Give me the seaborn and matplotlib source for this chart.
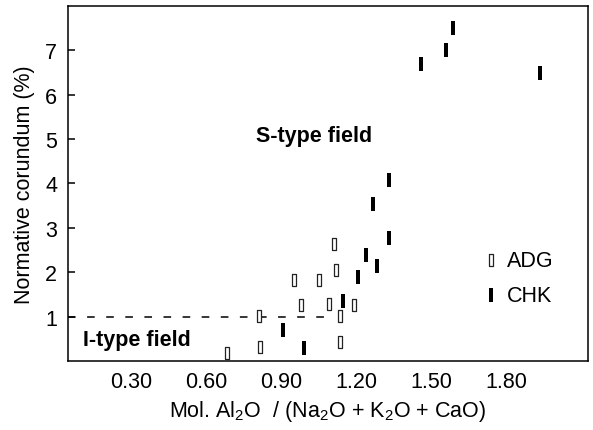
import numpy as np
import pandas as pd
import seaborn as sns
import matplotlib.pyplot as plt

# values
adg_x = [1.11, 1.12, 0.95, 1.05, 0.98, 1.09, 1.19, 0.81, 1.135, 0.815, 1.135, 0.68]
adg_y = [2.64, 2.06, 1.82, 1.83, 1.26, 1.28, 1.26, 1.02, 1.01, 0.32, 0.43, 0.17]
chk_x = [1.586, 1.558, 1.459, 1.935, 1.329, 1.266, 1.331, 1.237, 1.281, 1.205, 1.145, 0.905, 0.989]
chk_y = [7.49, 7.01, 6.69, 6.49, 4.08, 3.54, 2.77, 2.39, 2.15, 1.89, 1.36, 0.70, 0.29]
x_ticks = [0.30, 0.60, 0.90, 1.20, 1.50, 1.80]
y_ticks = [1, 2, 3, 4, 5, 6, 7]
i_type_level = 1.0
i_type_xmax = 1.07

df = pd.DataFrame({
    'ratio': adg_x + chk_x,
    'corundum': adg_y + chk_y,
    'group': ['ADG'] * len(adg_x) + ['CHK'] * len(chk_x),
})

sns.set_style('white')
plt.rcParams['font.family'] = ['Liberation Sans', 'DejaVu Sans']
plt.rcParams['mathtext.fontset'] = 'custom'
plt.rcParams['mathtext.rm'] = 'Liberation Sans'
plt.rcParams['mathtext.it'] = 'Liberation Sans:italic'
plt.rcParams['mathtext.bf'] = 'Liberation Sans:bold'
for key in ['text.color', 'axes.labelcolor', 'xtick.color', 'ytick.color']:
    plt.rcParams[key] = 'black'
fs = 15.5

fig = plt.figure(figsize=(5.93, 4.31), dpi=100)
ax = fig.add_axes([0.1142, 0.1601, 0.8774, 0.8244])

box_adg = [(-0.16, -0.5), (0.16, -0.5), (0.16, 0.5), (-0.16, 0.5), (-0.16, -0.5)]
bar_chk = [(-0.15, -0.5), (0.15, -0.5), (0.15, 0.5), (-0.15, 0.5), (-0.15, -0.5)]

sns.scatterplot(data=df[df.group == 'ADG'], x='ratio', y='corundum', ax=ax,
                marker=box_adg, s=9.0 ** 2, color='white', edgecolor='#222222',
                linewidth=0.9, label='ADG', zorder=3)
sns.scatterplot(data=df[df.group == 'CHK'], x='ratio', y='corundum', ax=ax,
                marker=bar_chk, s=9.6 ** 2, color='black', edgecolor='black',
                linewidth=0, label='CHK', zorder=3)

ax.set_xlim(0.044, 2.128)
ax.set_ylim(0, 8)

ax.hlines(i_type_level, 0.044, i_type_xmax, colors='black',
          linestyles=(0, (5, 7.5)), linewidth=1.1, zorder=2)

ax.text(1.032, 5.07, 'S-type field', fontsize=fs, fontweight='bold',
        ha='center', va='center')
ax.text(0.320, 0.48, 'I-type field', fontsize=fs, fontweight='bold',
        ha='center', va='center')

ax.set_xticks(x_ticks)
ax.set_xticklabels([f'{t:.2f}' for t in x_ticks])
ax.set_yticks(y_ticks)
ax.tick_params(axis='x', length=0, pad=7.5, labelsize=fs)
ax.tick_params(axis='y', direction='in', length=4.7, width=1.1, pad=7.7,
               labelsize=fs, left=True)

for sp in ax.spines.values():
    sp.set_visible(True)
    sp.set_color('black')
    sp.set_linewidth(1.1)

ax.set_xlabel('Mol. Al$_2$O  / (Na$_2$O + K$_2$O + CaO)', fontsize=fs, labelpad=4)
ax.set_ylabel('Normative corundum (%)', fontsize=fs, labelpad=7)

ax.legend(loc='center left', bbox_to_anchor=(0.792, 0.234), frameon=False,
          fontsize=fs, handlelength=1.0, handletextpad=0.24, labelspacing=0.65,
          borderpad=0, borderaxespad=0)

plt.savefig('out.png', dpi=100)
